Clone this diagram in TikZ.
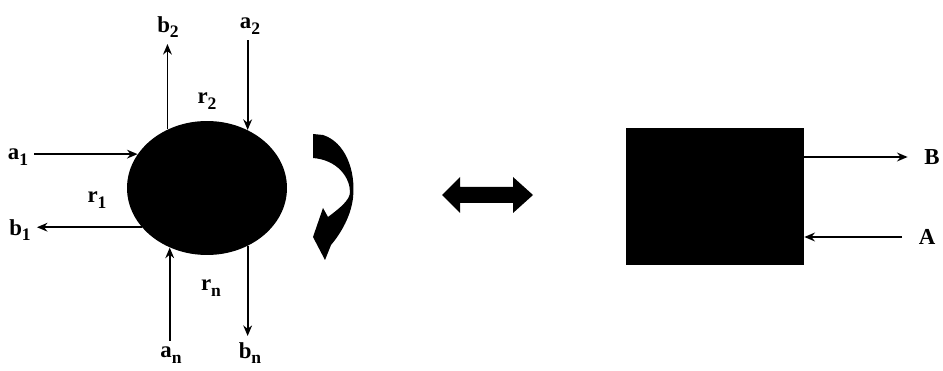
\documentclass[tikz,border=0pt]{standalone}
\usepackage{fontspec}
\setmainfont{Liberation Serif}
\usetikzlibrary{shapes.geometric, arrows.meta}

\newcommand{\sublabel}[2]{#1\raisebox{-0.55ex}{\fontsize{10}{11}\selectfont #2}}

\tikzset{
  lbl/.style={font=\fontsize{13}{15}\selectfont\bfseries},
  flow/.style={->, line width=1pt},
}

\begin{document}
\begin{tikzpicture}[>={Stealth[length=6pt,width=5pt]}, x=0.02cm, y=-0.02cm]
  \useasboundingbox (0,0) rectangle (943,371);

  % -------------------------
  % Cel met stromen
  % -------------------------
  \node[ellipse, fill=black, inner sep=0pt, minimum width=3.2cm,
        minimum height=2.68cm] (cell) at (207,188) {};

  \node[lbl] (a1) at (18,157) {\sublabel{a}{1}};
  \node[lbl] (b1) at (20,230) {\sublabel{b}{1}};
  \node[lbl] (b2) at (168,27) {\sublabel{b}{2}};
  \node[lbl] (a2) at (250,26) {\sublabel{a}{2}};
  \node[lbl] (an) at (171,355) {\sublabel{a}{n}};
  \node[lbl] (bn) at (250,353) {\sublabel{b}{n}};

  \node[lbl] (r1) at (97,200) {\sublabel{r}{1}};
  \node[lbl] (r2) at (207,101) {\sublabel{r}{2}};
  \node[lbl] (rn) at (211,288) {\sublabel{r}{n}};

  \draw[flow] (cell.154 -| a1.east) -- (cell.154);
  \draw[flow] (cell.211) -- (cell.211 -| b1.east);
  \draw[flow] (cell.124) -- (cell.124 |- b2.south);
  \draw[flow] (cell.55 |- a2.south) -- (cell.55);
  \draw[flow] (cell.238 |- an.north) -- (cell.238);
  \draw[flow] (cell.305) -- (cell.305 |- bn.north);

  % draaipijl
  \fill (313,134) -- (323,135) .. controls (345,142) and (356,170) .. (353,198)
    .. controls (351,215) and (342,232) .. (331,245) -- (325,260) -- (313,237)
    -- (323,208) -- (328,217) .. controls (340,208) and (350,200) .. (350,192)
    .. controls (350,178) and (338,160) .. (313,158) -- cycle;

  % dubbele pijl
  \fill (442,195) -- (460,177) -- (460,187) -- (513,187) -- (513,177)
    -- (533,195) -- (513,213) -- (513,203) -- (460,203) -- (460,213) -- cycle;

  % -------------------------
  % Zwarte doos
  % -------------------------
  \node[fill=black, inner sep=0pt, minimum width=3.56cm,
        minimum height=2.74cm] (box) at (715,196.5) {};

  \node[lbl] (B) at (932,157) {B};
  \node[lbl] (A) at (927,237) {A};

  \draw[flow] (box.east |- B) -- ([xshift=-6pt]B.west);
  \draw[flow] ([xshift=-6pt]A.west) -- (box.east |- A);

\end{tikzpicture}
\end{document}
